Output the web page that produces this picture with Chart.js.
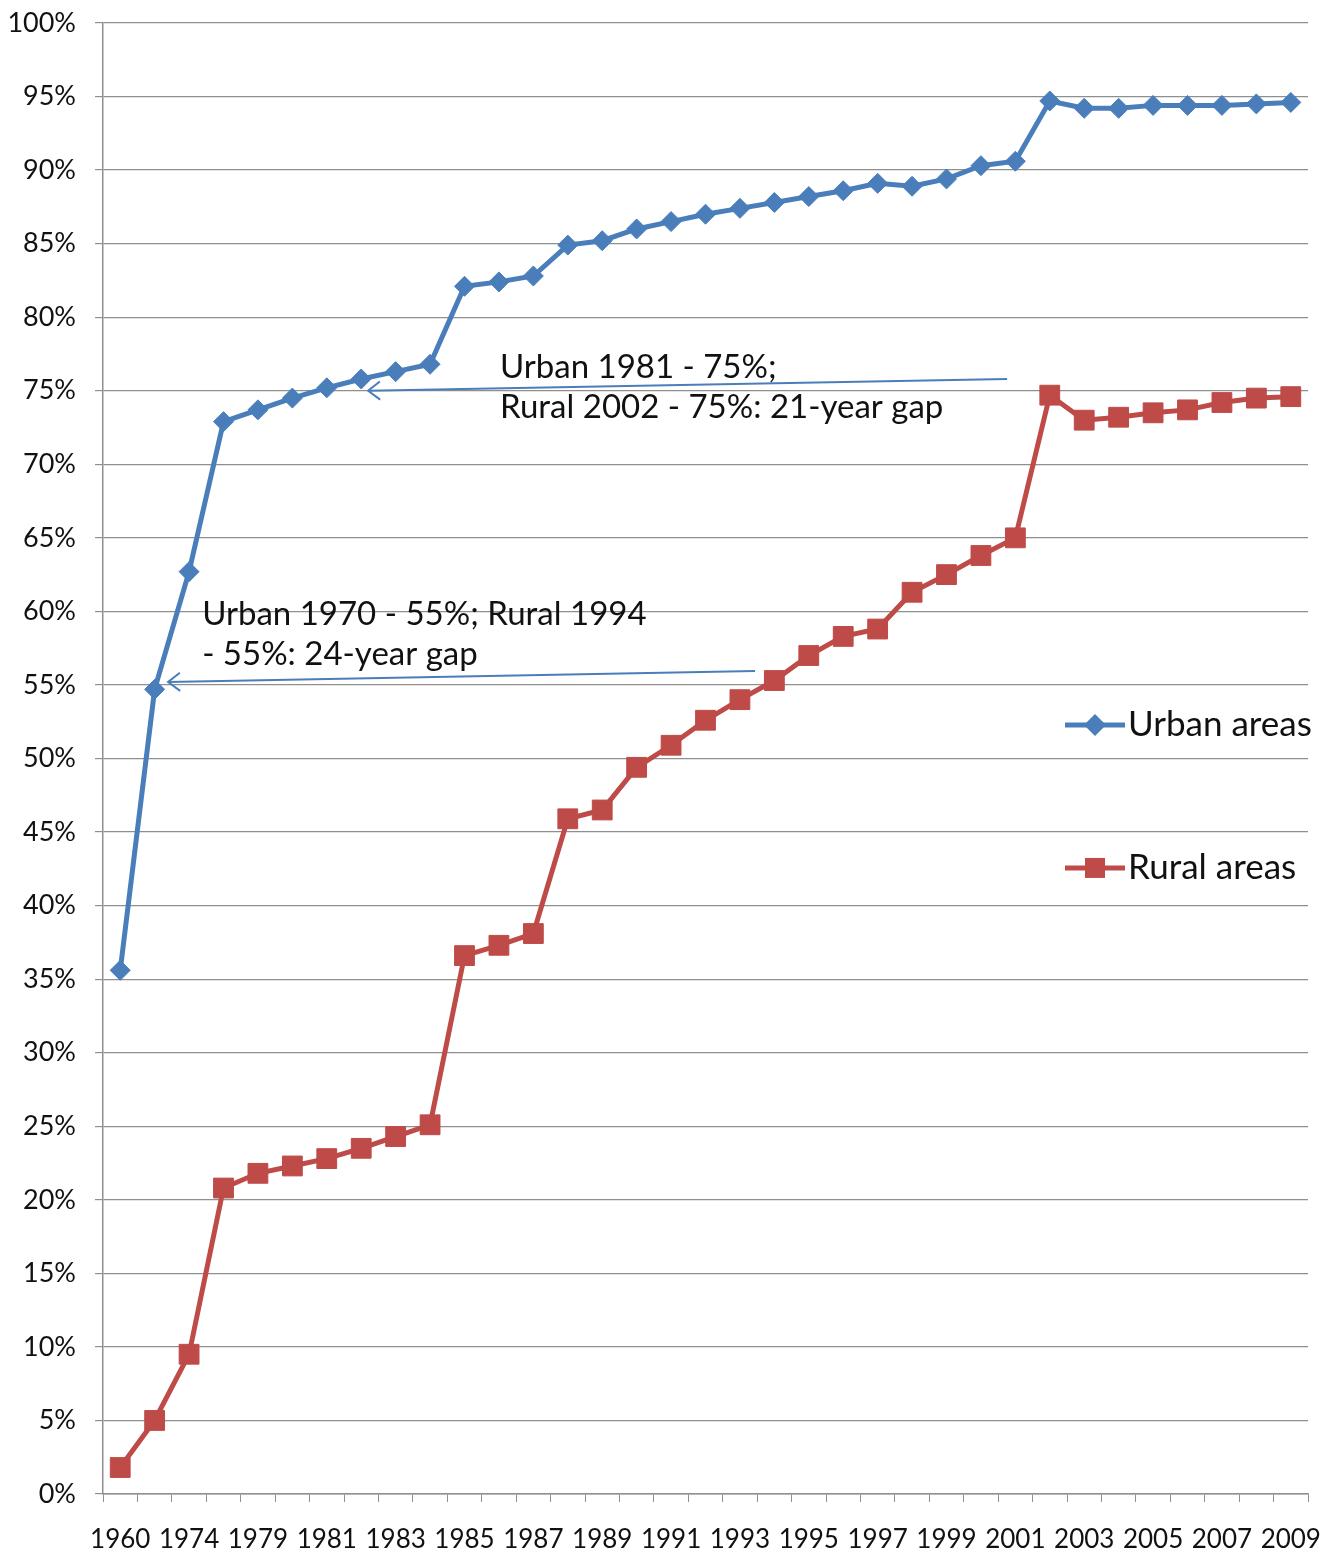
<!DOCTYPE html>
<html>
<head>
<meta charset="utf-8">
<script src="https://cdn.jsdelivr.net/npm/chart.js@4.4.0/dist/chart.umd.min.js"></script>
<style>
  html, body { margin: 0; padding: 0; background: #ffffff; }
  #wrap { width: 1324px; height: 1553px; position: relative; }
</style>
</head>
<body>
<div id="wrap"><canvas id="c" width="1324" height="1553"></canvas></div>
<script>
// ---- data ----
const years = ['1960','1970','1974','1976','1979','1980','1981','1982','1983','1984','1985','1986','1987','1988','1989','1990','1991','1992','1993','1994','1995','1996','1997','1998','1999','2000','2001','2002','2003','2004','2005','2006','2007','2008','2009'];
const urbanValues = [35.6,54.7,62.7,72.9,73.7,74.5,75.2,75.8,76.3,76.8,82.1,82.4,82.8,84.9,85.2,86.0,86.5,87.0,87.4,87.8,88.2,88.6,89.1,88.9,89.4,90.3,90.6,94.7,94.2,94.2,94.4,94.4,94.4,94.5,94.6];
const ruralValues = [1.8,5.0,9.5,20.8,21.8,22.3,22.8,23.5,24.3,25.1,36.6,37.3,38.1,45.9,46.5,49.4,50.9,52.6,54.0,55.3,57.0,58.3,58.8,61.3,62.5,63.8,65.0,74.7,73.0,73.2,73.5,73.7,74.2,74.5,74.6];
const seriesNames = ['Urban areas', 'Rural areas'];
const annotationLines = [
  ['Urban 1981 - 75%;', 'Rural 2002 - 75%: 21-year gap'],
  ['Urban 1970 - 55%; Rural 1994', '- 55%: 24-year gap']
];
// annotation anchors in data units (category index, percent)
const annotationText = [ {x: 11.03, y: 76.6}, {x: 2.38, y: 59.8} ];
const annotationArrows = [
  {fromX: 25.76, fromY: 75.8, toX: 7.2, toY: 75.0},
  {fromX: 18.44, fromY: 55.95, toX: 1.39, toY: 55.2}
];
const legendAnchors = [52.28, 42.56];

const FONT = 'Lato, "Open Sans", sans-serif';
const BLUE = '#4A7EBB';
const RED = '#BE4B48';
const GRID = '#8f8f8f';
const TEXT = '#111111';

const overlay = {
  id: 'overlay',
  afterDatasetsDraw(chart) {
    const ctx = chart.ctx;
    const xs = chart.scales.x, ys = chart.scales.y;
    ctx.save();
    // arrows
    ctx.strokeStyle = BLUE;
    ctx.lineWidth = 2;
    annotationArrows.forEach(a => {
      const x1 = xs.getPixelForValue(a.fromX), y1 = ys.getPixelForValue(a.fromY);
      const x2 = xs.getPixelForValue(a.toX), y2 = ys.getPixelForValue(a.toY);
      ctx.beginPath(); ctx.moveTo(x1, y1); ctx.lineTo(x2, y2); ctx.stroke();
      const ang = Math.atan2(y1 - y2, x1 - x2);
      const L = 15, spread = 0.65;
      ctx.beginPath();
      ctx.moveTo(x2 + L * Math.cos(ang - spread), y2 + L * Math.sin(ang - spread));
      ctx.lineTo(x2, y2);
      ctx.lineTo(x2 + L * Math.cos(ang + spread), y2 + L * Math.sin(ang + spread));
      ctx.stroke();
    });
    // annotation text
    ctx.fillStyle = TEXT;
    ctx.font = '33px ' + FONT;
    ctx.textAlign = 'left';
    ctx.textBaseline = 'middle';
    annotationText.forEach((t, i) => {
      const x = xs.getPixelForValue(t.x), y = ys.getPixelForValue(t.y);
      annotationLines[i].forEach((line, j) => ctx.fillText(line, x, y + j * 40));
    });
    // legend inside plot, right side
    const area = chart.chartArea;
    const items = [
      {name: seriesNames[0], color: BLUE, shape: 'diamond', y: ys.getPixelForValue(legendAnchors[0])},
      {name: seriesNames[1], color: RED, shape: 'square', y: ys.getPixelForValue(legendAnchors[1])}
    ];
    items.forEach(it => {
      const lx1 = area.right - 243, lx2 = area.right - 183, cx = (lx1 + lx2) / 2;
      ctx.strokeStyle = it.color; ctx.fillStyle = it.color; ctx.lineWidth = 5;
      ctx.beginPath(); ctx.moveTo(lx1, it.y); ctx.lineTo(lx2, it.y); ctx.stroke();
      ctx.beginPath();
      if (it.shape === 'diamond') {
        ctx.moveTo(cx - 11, it.y); ctx.lineTo(cx, it.y - 11); ctx.lineTo(cx + 11, it.y); ctx.lineTo(cx, it.y + 11);
      } else {
        ctx.rect(cx - 10, it.y - 10, 20, 20);
      }
      ctx.closePath(); ctx.fill();
      ctx.fillStyle = TEXT;
      ctx.font = '35px ' + FONT;
      ctx.textBaseline = 'middle';
      ctx.fillText(it.name, lx2 + 3, it.y);
    });
    ctx.restore();
  }
};

new Chart(document.getElementById('c'), {
  type: 'line',
  data: {
    labels: years,
    datasets: [
      { label: seriesNames[0], data: urbanValues, borderColor: BLUE, backgroundColor: BLUE,
        borderWidth: 5, pointStyle: 'rectRot', pointRadius: 10, pointBorderWidth: 1,
        pointBackgroundColor: BLUE, pointBorderColor: BLUE, tension: 0 },
      { label: seriesNames[1], data: ruralValues, borderColor: RED, backgroundColor: RED,
        borderWidth: 5, pointStyle: 'rect', pointRadius: 14, pointBorderWidth: 1,
        pointBackgroundColor: RED, pointBorderColor: RED, tension: 0 }
    ]
  },
  options: {
    responsive: false,
    animation: false,
    devicePixelRatio: 1,
    layout: { padding: { top: 23, right: 16, left: 0, bottom: 0 } },
    plugins: { legend: { display: false }, tooltip: { enabled: false } },
    scales: {
      x: {
        type: 'category',
        offset: true,
        grid: { display: true, drawOnChartArea: false, drawTicks: true, tickLength: 8, offset: true, color: GRID, tickColor: GRID },
        border: { display: true, color: GRID, width: 1.5 },
        ticks: {
          autoSkip: false, maxRotation: 0, minRotation: 0, padding: 22,
          color: TEXT, font: { family: FONT, size: 26 },
          callback: function(v, i) { return i % 2 === 0 ? years[i] : ''; }
        },
        afterFit: s => { s.height = 59; s.paddingLeft = 0; s.paddingRight = 0; }
      },
      y: {
        min: 0, max: 100,
        grid: { color: GRID, tickColor: GRID, tickLength: 8, lineWidth: 1.2 },
        border: { display: true, color: GRID, width: 1.5 },
        ticks: {
          stepSize: 5, padding: 19, color: TEXT, font: { family: FONT, size: 27 },
          callback: v => v + '%'
        },
        afterFit: s => { s.width = 103; s.paddingTop = 0; s.paddingBottom = 0; }
      }
    }
  },
  plugins: [overlay]
});
</script>
</body>
</html>
